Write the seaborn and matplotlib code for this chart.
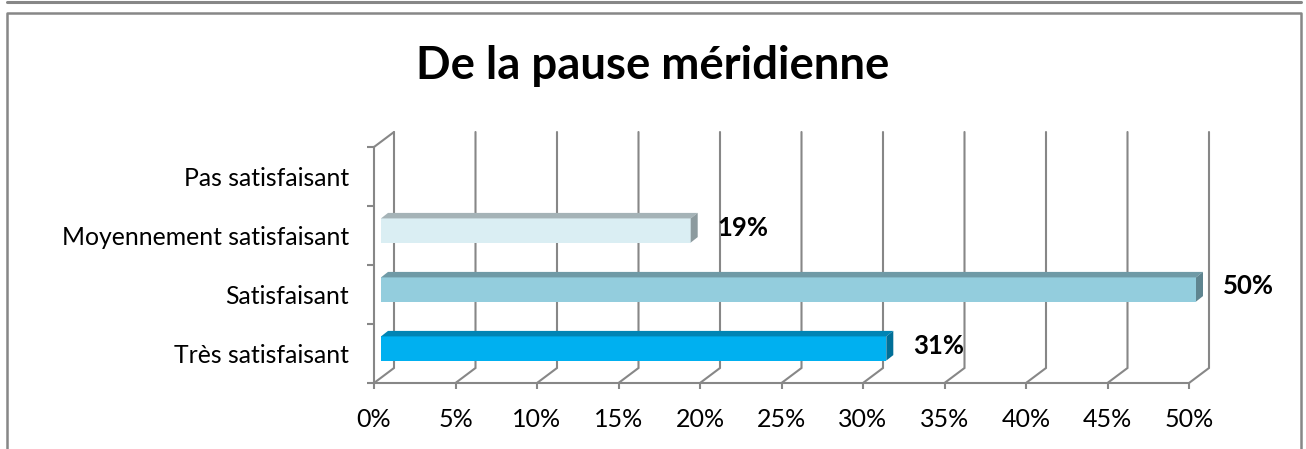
import numpy as np
import pandas as pd
import seaborn as sns
import matplotlib.pyplot as plt
from matplotlib.patches import Polygon
from matplotlib.lines import Line2D

# données
categories = ["Pas satisfaisant", "Moyennement satisfaisant", "Satisfaisant", "Très satisfaisant"]
values = [0.0, 0.19, 0.50, 0.31]
bar_labels = ["", "19%", "50%", "31%"]
x_ticks = [0, 5, 10, 15, 20, 25, 30, 35, 40, 45, 50]

front_colors = ["#DAEEF3", "#DAEEF3", "#93CDDD", "#00B0F0"]
top_colors = ["#A5B3B7", "#A5B3B7", "#6F9AA6", "#0084B4"]
side_colors = ["#8C9A9E", "#8C9A9E", "#5F8590", "#006F98"]
grey = "#878787"

sns.set_theme(style="white")
plt.rcParams['font.family'] = ['Lato', 'DejaVu Sans']
plt.rcParams['text.color'] = 'black'
plt.rcParams['xtick.labelcolor'] = 'black'
plt.rcParams['ytick.labelcolor'] = 'black'

fig = plt.figure(figsize=(13.06, 4.49), dpi=100)
ax = fig.add_axes([374 / 1306, 1 - 383 / 449, 815 / 1306, 236 / 449])

df = pd.DataFrame({"cat": categories, "val": values})
sns.barplot(data=df, x="val", y="cat", hue="cat", order=categories, hue_order=categories,
            palette=dict(zip(categories, front_colors)), legend=False, width=0.41,
            saturation=1, orient="h", ax=ax, zorder=3, edgecolor="none")

ax.set_xlim(0, 0.5)
ax.set_ylim(3.5, -0.5)
ax.set_xlabel("")
ax.set_ylabel("")

# conversion pixels -> données (pour l'effet 3D)
W = ax.bbox.width
H = ax.bbox.height
sx = 0.5 / W
sy = -4.0 / H

# mur du fond + plancher
for t in x_ticks:
    xv = t / 100
    ax.plot([xv, xv + 20 * sx, xv + 20 * sx], [3.5, 3.5 + 15 * sy, -0.5 + 15 * sy],
            color=grey, lw=1.5, clip_on=False, zorder=1, solid_joinstyle="miter")
ax.plot([0, 20 * sx], [-0.5, -0.5 + 15 * sy], color=grey, lw=1.5, clip_on=False, zorder=1)

# barres en relief
for p in ax.patches:
    i = int(round(p.get_y() + p.get_height() / 2))
    if values[i] == 0:
        p.set_visible(False)
        continue
    p.set_clip_on(False)
    p.set_x(p.get_x() + 7 * sx)
    p.set_y(p.get_y() + 5 * sy)
    x0 = p.get_x()
    x1 = x0 + p.get_width()
    yb = p.get_y() + p.get_height()   # bas (axe inversé)
    yt = p.get_y()                    # haut
    dx, dy = 7 * sx, 5.5 * sy
    ax.add_patch(Polygon([[x0, yt], [x1, yt], [x1 + dx, yt + dy], [x0 + dx, yt + dy]],
                         closed=True, facecolor=top_colors[i], edgecolor="none",
                         zorder=3, clip_on=False))
    ax.add_patch(Polygon([[x1, yb], [x1, yt], [x1 + dx, yt + dy], [x1 + dx, yb + dy]],
                         closed=True, facecolor=side_colors[i], edgecolor="none",
                         zorder=3, clip_on=False))
    ax.text(x1 + dx + 20 * sx, (yt + yb) / 2 + 3 * sy, bar_labels[i], ha="left", va="center",
            fontsize=18.5, fontweight="bold", color="black", clip_on=False)

# axes
for s in ["top", "right"]:
    ax.spines[s].set_visible(False)
for s in ["left", "bottom"]:
    ax.spines[s].set_color(grey)
    ax.spines[s].set_linewidth(1.5)
    ax.spines[s].set_zorder(4)

ax.set_xticks([t / 100 for t in x_ticks])
ax.set_xticklabels([f"{t}%" for t in x_ticks])
ax.tick_params(axis="x", length=4, width=1.5, color=grey, pad=14, labelsize=18, direction="out", bottom=True)
ax.set_yticks(range(len(categories)))
ax.set_yticklabels(categories)
ax.set_yticks(np.arange(-0.5, 4, 1), minor=True)
ax.tick_params(axis="y", which="major", length=0, pad=18, labelsize=17.8)
ax.tick_params(axis="y", which="minor", length=5, width=1.5, color=grey, direction="out", left=True)

# titre
fig.text(0.5, 1 - 66 / 449, "De la pause méridienne", ha="center", va="center",
         fontsize=32.8, fontweight="bold")

# cadre
fig.add_artist(Line2D([6.5 / 1306, 6.5 / 1306, 1300.5 / 1306, 1300.5 / 1306],
                      [0, 1 - 12.5 / 449, 1 - 12.5 / 449, 0],
                      transform=fig.transFigure, color=grey, lw=1.8))
fig.add_artist(Line2D([6.5 / 1306, 1300.5 / 1306], [1 - 1.5 / 449, 1 - 1.5 / 449],
                      transform=fig.transFigure, color=grey, lw=2.2))

fig.savefig("out.png", dpi=100)
